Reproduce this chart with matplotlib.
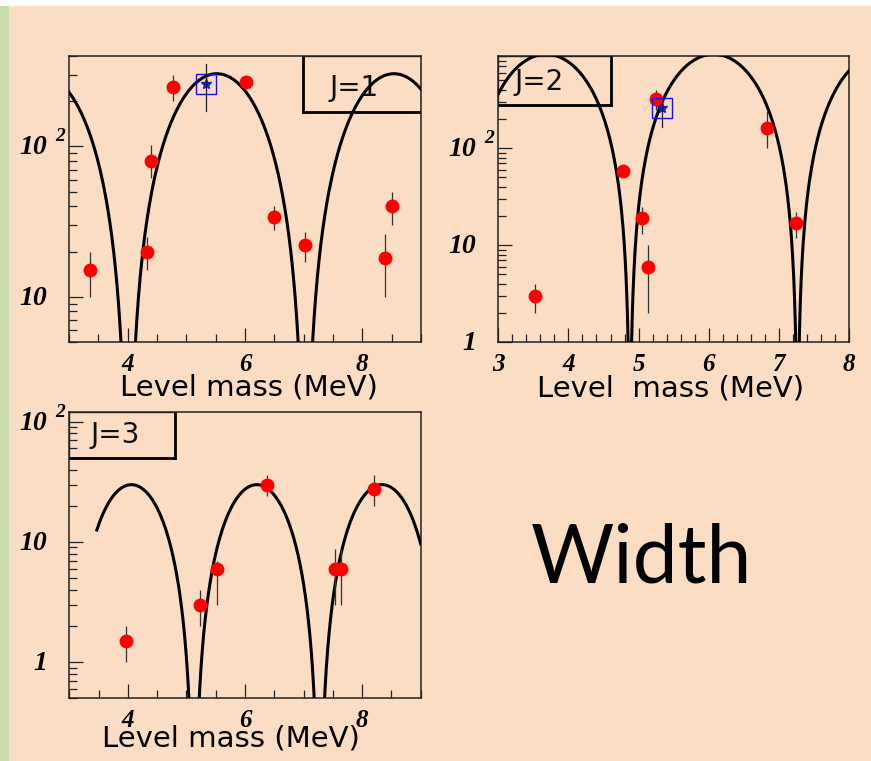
import numpy as np
import matplotlib.pyplot as plt
from matplotlib.patches import Rectangle
from matplotlib.ticker import FixedLocator, MultipleLocator, LogLocator, NullFormatter

BG = '#FBDDC3'
GREEN = '#C9DCAB'

# J=1 resonances: mass (MeV), width, error bar low/high
j1_mass = [3.36, 4.33, 4.40, 4.77, 6.01, 6.50, 7.02, 8.38, 8.50]
j1_width = [15, 20, 80, 250, 270, 34, 22, 18, 40]
j1_low = [10, 15, 62, 202, 255, 28, 17, 10, 30]
j1_high = [20, 25, 103, 300, 290, 40, 27, 26, 50]
j1_star = [5.33, 262, 171, 354]          # mass, width, low, high

# J=2 resonances
j2_mass = [3.53, 4.78, 5.05, 5.14, 5.25, 6.83, 7.25]
j2_width = [3.0, 58, 19, 6.0, 320, 161, 17]
j2_low = [2.0, 56, 13, 2.0, 249, 100, 12]
j2_high = [4.0, 60, 24.6, 10, 398, 244, 22]
j2_star = [5.34, 258, 166, 300]

# J=3 resonances
j3_mass = [3.97, 5.23, 5.52, 6.37, 7.54, 7.64, 8.20]
j3_width = [1.5, 3.0, 6.0, 30, 6.0, 6.0, 27.6]
j3_low = [1.0, 2.0, 3.0, 24, 3.0, 3.0, 19.8]
j3_high = [2.0, 4.0, 7.0, 36, 8.8, 8.8, 35.8]

# model curve: amplitude, first node (MeV), node spacing (MeV), mass range
j1_curve = [305, 4.01, 3.02, 3.0, 9.0]
j2_curve = [930, 4.876, 2.39, 3.0, 8.0]
j3_curve = [30, 5.13, 2.14, 3.47, 9.0]

TICKFONT = dict(family='Liberation Serif', weight='bold', style='italic')
SANS = 'DejaVu Sans'


def model(amp, node, spacing, lo, hi):
    m = np.linspace(lo, hi, 4000)
    return m, amp * np.sin(np.pi * (m - node) / spacing) ** 2


def setup(ax, xlim, ylim, xmaj, xmin, ylabels):
    ax.set_facecolor('none')
    ax.set_yscale('log')
    ax.set_xlim(*xlim)
    ax.set_ylim(*ylim)
    for s in ax.spines.values():
        s.set_linewidth(1.1)
        s.set_color('#222222')
    ax.xaxis.set_major_locator(FixedLocator(xmaj))
    ax.xaxis.set_minor_locator(MultipleLocator(xmin))
    ax.set_xticklabels([str(v) for v in xmaj], fontsize=18, **TICKFONT)
    ax.yaxis.set_major_locator(FixedLocator([1, 10, 100]))
    ax.yaxis.set_minor_locator(LogLocator(base=10, subs=np.arange(2, 10)))
    ax.yaxis.set_major_formatter(NullFormatter())
    ax.yaxis.set_minor_formatter(NullFormatter())
    ax.tick_params(which='both', direction='in', top=False, right=False,
                   color='#222222', width=0.9)
    ax.tick_params(which='major', length=10, pad=8)
    ax.tick_params(which='minor', length=5.5)
    tr = ax.get_yaxis_transform()
    for val, base, sup in ylabels:
        ax.annotate(base, xy=(0, val), xycoords=tr, xytext=(-16, -1),
                    textcoords='offset points', ha='right', va='center',
                    fontsize=20, **TICKFONT)
        if sup:
            ax.annotate(sup, xy=(0, val), xycoords=tr, xytext=(-10, 7),
                        textcoords='offset points', ha='left', va='center',
                        fontsize=14, **TICKFONT)


def tag(ax, x0, x1, y0, label, tx, ty, shadow_left):
    ax.add_patch(Rectangle((x0, y0), x1 - x0, 1 - y0, transform=ax.transAxes,
                           facecolor='none', edgecolor='#222222', lw=1.0, zorder=2))
    if shadow_left:
        ax.plot([x0, x0], [y0, 1], transform=ax.transAxes, color='black', lw=2, zorder=2)
    else:
        ax.plot([x1, x1], [y0, 1], transform=ax.transAxes, color='black', lw=2, zorder=2)
    ax.plot([x0, x1], [y0, y0], transform=ax.transAxes, color='black', lw=2, zorder=2)
    ax.text(tx, ty, label, transform=ax.transAxes, ha='center', va='center',
            fontsize=20, family=SANS, color='#111111', zorder=2)


def points(ax, mass, width, low, high):
    w = np.array(width)
    err = [w - np.array(low), np.array(high) - w]
    ax.errorbar(mass, width, yerr=err, fmt='none', ecolor='#333333',
                elinewidth=0.9, zorder=4)
    ax.plot(mass, width, 'o', color='#FF0000', markersize=10, mec='none', zorder=5)


def star(ax, s):
    ax.plot(s[0], s[1], 's', mfc='none', mec='#1010FF', mew=1.0, markersize=15, zorder=6)
    ax.plot(s[0], s[1], '*', color='#1010FF', markersize=8, zorder=6)
    ax.plot([s[0], s[0]], [s[2], s[3]], color='#222222', lw=0.9, zorder=7)


fig = plt.figure(figsize=(8.71, 7.61), dpi=100)
fig.patch.set_facecolor(BG)
fig.patches.append(Rectangle((0, 0), 9 / 871, 1, transform=fig.transFigure,
                             facecolor=GREEN, edgecolor='none', zorder=0))
fig.patches.append(Rectangle((0, 1 - 6 / 761), 1, 6 / 761, transform=fig.transFigure,
                             facecolor='white', edgecolor='none', zorder=1))

ax1 = fig.add_axes([0.0792, 0.5506, 0.4041, 0.3758])
ax2 = fig.add_axes([0.5721, 0.5502, 0.4026, 0.3766])
ax3 = fig.add_axes([0.0796, 0.0824, 0.4034, 0.3758])

# J=1
setup(ax1, (3, 9), (5, 400), [4, 6, 8], 0.5,
      [(10, '10', ''), (100, '10', '2')])
m, g = model(*j1_curve)
ax1.plot(m, g, color='black', lw=2.2, zorder=3)
tag(ax1, 0.665, 1.0, 0.805, 'J=1', 0.81, 0.888, True)
points(ax1, j1_mass, j1_width, j1_low, j1_high)
star(ax1, j1_star)
ax1.text(0.511, -0.16, 'Level mass (MeV)', transform=ax1.transAxes,
         ha='center', va='center', fontsize=21, family=SANS)

# J=2
setup(ax2, (3, 8), (1, 900), [3, 4, 5, 6, 7, 8], 0.2,
      [(1, '1', ''), (10, '10', ''), (100, '10', '2')])
m, g = model(*j2_curve)
ax2.plot(m, g, color='black', lw=2.2, zorder=3)
tag(ax2, 0.0, 0.321, 0.828, 'J=2', 0.116, 0.908, False)
points(ax2, j2_mass, j2_width, j2_low, j2_high)
star(ax2, j2_star)
ax2.text(0.4925, -0.16, 'Level  mass (MeV)', transform=ax2.transAxes,
         ha='center', va='center', fontsize=21, family=SANS)

# J=3
setup(ax3, (3, 9), (0.5, 120), [4, 6, 8], 0.5,
      [(1, '1', ''), (10, '10', ''), (100, '10', '2')])
m, g = model(*j3_curve)
ax3.plot(m, g, color='black', lw=2.2, zorder=3)
tag(ax3, 0.0, 0.302, 0.841, 'J=3', 0.13, 0.92, False)
points(ax3, j3_mass, j3_width, j3_low, j3_high)
ax3.text(0.46, -0.14, 'Level mass (MeV)', transform=ax3.transAxes,
         ha='center', va='center', fontsize=21, family=SANS)

fig.text(0.7365, 0.235, 'Width', ha='center', va='baseline',
         fontsize=58, family='Lato', color='black')

fig.savefig('out.png', dpi=100, facecolor=BG)
